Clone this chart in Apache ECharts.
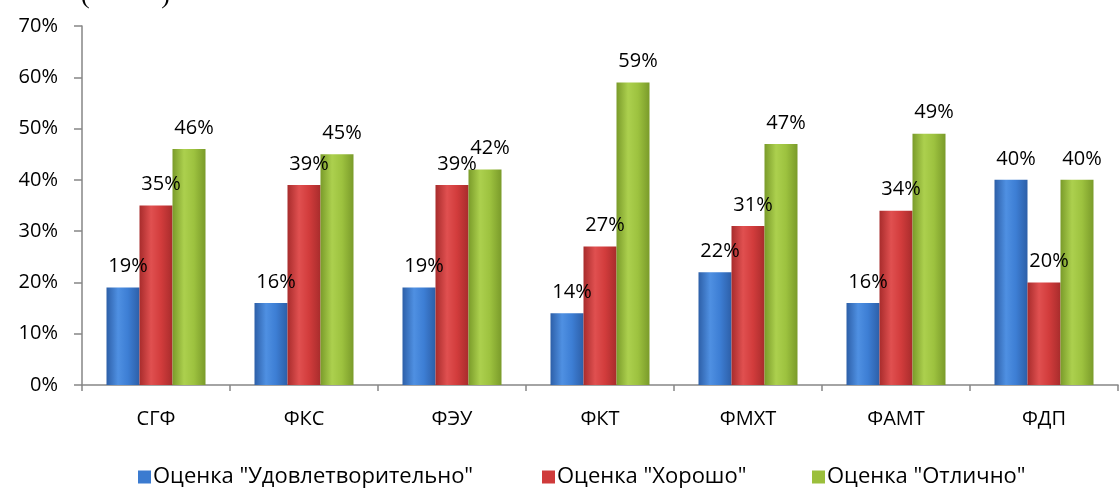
<!DOCTYPE html>
<html>
<head>
<meta charset="utf-8">
<script src="https://cdn.jsdelivr.net/npm/echarts@6/dist/echarts.min.js"></script>
<style>
  html, body { margin: 0; padding: 0; background: #fff; }
  #chart { width: 1120px; height: 488px; }
</style>
</head>
<body>
<div id="chart"></div>
<script>
// Faculties along the x axis
const faculties = ['СГФ', 'ФКС', 'ФЭУ', 'ФКТ', 'ФМХТ', 'ФАМТ', 'ФДП'];

// Share of each grade per faculty, in percent
const satisfactory = [19, 16, 19, 14, 22, 16, 40];
const good         = [35, 39, 39, 27, 31, 34, 20];
const excellent    = [46, 45, 42, 59, 47, 49, 40];

const seriesNames = ['Оценка "Удовлетворительно"', 'Оценка "Хорошо"', 'Оценка "Отлично"'];

const FONT = '"Open Sans", "DejaVu Sans", sans-serif';

// Horizontal gradient giving each bar a rounded, cylinder-like shading
function shade(edge, mid, light) {
  return new echarts.graphic.LinearGradient(0, 0, 1, 0, [
    { offset: 0, color: edge },
    { offset: 0.35, color: light },
    { offset: 0.65, color: mid },
    { offset: 1, color: edge }
  ]);
}

const palette = [
  { edge: '#2d5fa8', mid: '#3d7ed4', light: '#4f90e2', flat: '#3b7bd0' },
  { edge: '#a82c2c', mid: '#d23c3c', light: '#e05050', flat: '#cf3a3a' },
  { edge: '#7a9b2a', mid: '#9dc23f', light: '#acd04e', flat: '#9bbf3c' }
];

function barSeries(name, values, p) {
  return {
    name: name,
    type: 'bar',
    data: values,
    barWidth: 33,
    barGap: '0%',
    itemStyle: { color: shade(p.edge, p.mid, p.light) },
    label: {
      show: true,
      position: 'top',
      distance: 11,
      offset: [5, 0],
      formatter: '{c}%',
      fontFamily: FONT,
      fontSize: 20,
      color: '#000'
    }
  };
}

function legendAt(left, name, color) {
  return {
    left: left,
    top: 461,
    itemWidth: 13,
    itemHeight: 13,
    itemGap: 0,
    icon: 'rect',
    data: [{ name: name, itemStyle: { color: color } }],
    textStyle: { fontFamily: FONT, fontSize: 22, color: '#000', padding: [0, 0, 0, -3] },
    selectedMode: false
  };
}

const chart = echarts.init(document.getElementById('chart'), null, { renderer: 'canvas' });

chart.setOption({
  animation: false,
  backgroundColor: '#fff',
  title: {
    text: '(           )',
    left: 76,
    top: -22,
    textStyle: { fontFamily: '"Liberation Serif", serif', fontSize: 26, fontWeight: 'normal', color: '#000' }
  },
  grid: { left: 82, right: 2, top: 26, bottom: 103, containLabel: false },
  legend: [
    legendAt(133, seriesNames[0], palette[0].flat),
    legendAt(537, seriesNames[1], palette[1].flat),
    legendAt(807, seriesNames[2], palette[2].flat)
  ],
  xAxis: {
    type: 'category',
    data: faculties,
    axisLine: { lineStyle: { color: '#868686', width: 1.5 } },
    axisTick: { show: true, length: 6, alignWithLabel: false, lineStyle: { color: '#868686', width: 1.5 } },
    axisLabel: { fontFamily: FONT, fontSize: 20, color: '#000', margin: 24 }
  },
  yAxis: {
    type: 'value',
    min: 0,
    max: 70,
    interval: 10,
    splitLine: { show: false },
    axisLine: { show: true, lineStyle: { color: '#868686', width: 1.5 } },
    axisTick: { show: true, length: 8, lineStyle: { color: '#868686', width: 1.5 } },
    axisLabel: { formatter: '{value}%', fontFamily: FONT, fontSize: 20, color: '#000', margin: 24 }
  },
  series: [
    barSeries(seriesNames[0], satisfactory, palette[0]),
    barSeries(seriesNames[1], good, palette[1]),
    barSeries(seriesNames[2], excellent, palette[2])
  ]
});
</script>
</body>
</html>
